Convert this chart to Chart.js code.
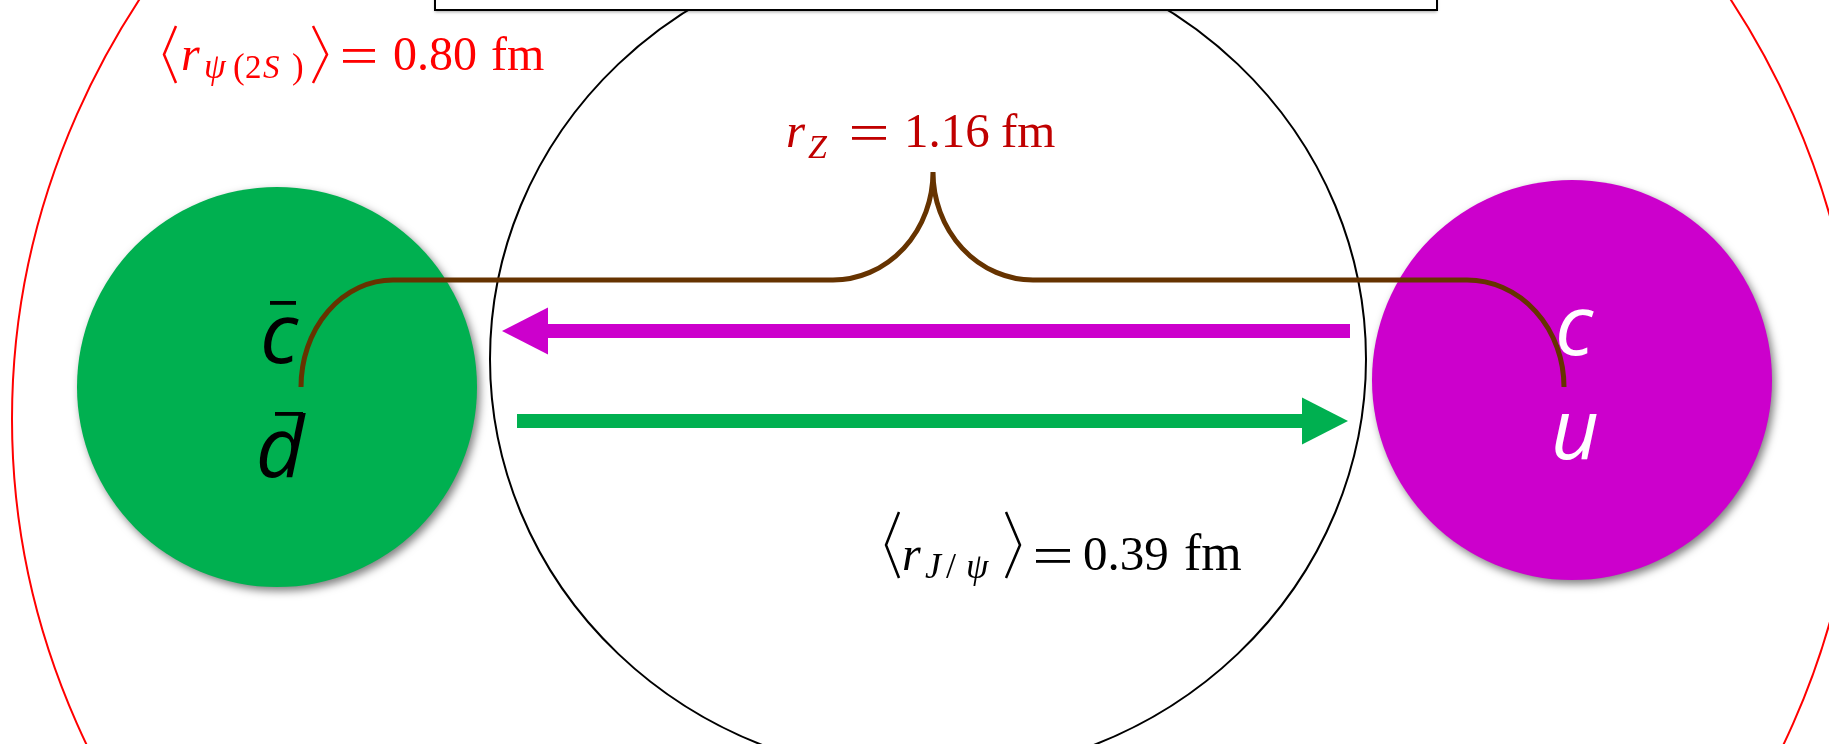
<!DOCTYPE html>
<html>
<head>
<meta charset="utf-8">
<title>Z size sketch</title>
<script src="https://cdn.jsdelivr.net/npm/chart.js@4.4.0/dist/chart.umd.min.js"></script>
<style>
  html, body { margin: 0; padding: 0; background: #fff; }
  #wrap { width: 1829px; height: 744px; }
</style>
</head>
<body>
<div id="wrap"><canvas id="diagram"></canvas></div>
<script>
'use strict';

// outline rings: psi(2S) in red, J/psi in black
const ringNames = ['psi(2S)', 'J/psi'];
const ringCx = [935, 928];
const ringCy = [419, 359];
const ringRx = [923, 438];
const ringRy = [827, 417];

// filled blobs: anti-quarks on the left, quarks on the right
const blobNames = ['cbar dbar', 'c u'];
const blobCx = [277, 1572];
const blobCy = [387, 380];
const blobR = [200, 200];

// quark letters inside the blobs
const quarkTop = ['c', 'c'];
const quarkBottom = ['d', 'u'];
const quarkBar = [true, false];

// arrows between the blobs (magenta to the left, green to the right)
const arrowFrom = [1350, 517];
const arrowTo = [502, 1348];
const arrowY = [331, 421];

// brace joining the two quark centres
const braceX = [301, 393, 833, 933, 1033, 1467, 1564];
const braceY = [387, 280, 280, 172, 280, 280, 387];

// box cut off at the top edge
const boxX = [435, 1437];
const boxY = [-20, 10];

const ringColors = ['#ff0000', '#000000'];
const blobColors = ['#00b050', '#cc00cc'];
const letterColors = ['#000000', '#ffffff'];
const arrowColors = ['#cc00cc', '#00b050'];
const braceColor = '#663300';
const serif = '"Liberation Serif", "DejaVu Serif", serif';
const headLen = 46, headHalf = 23.5;
const topLift = [24, 25], bottomDrop = [90, 79];

const run = (ctx, txt, x, y, size, italic, color) => {
  ctx.font = (italic ? 'italic ' : '') + size + 'px ' + serif;
  ctx.fillStyle = color;
  ctx.fillText(txt, x, y);
};

// angle bracket: open side at xOpen, tip at xTip
const bracket = (ctx, xOpen, xTip, top, bottom, color) => {
  ctx.beginPath();
  ctx.moveTo(xOpen, top);
  ctx.lineTo(xTip, (top + bottom) / 2);
  ctx.lineTo(xOpen, bottom);
  ctx.lineWidth = 2.5;
  ctx.strokeStyle = color;
  ctx.stroke();
};

const equals = (ctx, x0, x1, yc, color) => {
  ctx.fillStyle = color;
  ctx.fillRect(x0, yc - 7, x1 - x0, 2.8);
  ctx.fillRect(x0, yc + 4, x1 - x0, 2.8);
};

const diagram = {
  id: 'diagram',
  beforeDraw(chart) {
    const ctx = chart.ctx;
    ctx.save();
    ctx.fillStyle = '#fff';
    ctx.fillRect(0, 0, chart.width, chart.height);
    ctx.restore();
  },
  beforeDatasetsDraw(chart) {
    const {ctx, scales: {x, y}} = chart;
    const px = v => x.getPixelForValue(v), py = v => y.getPixelForValue(v);
    ctx.save();

    // rings
    ringCx.forEach((cx, i) => {
      ctx.beginPath();
      ctx.ellipse(px(cx), py(ringCy[i]), Math.abs(px(cx + ringRx[i]) - px(cx)),
        Math.abs(py(ringCy[i] + ringRy[i]) - py(ringCy[i])), 0, 0, 2 * Math.PI);
      ctx.lineWidth = 2;
      ctx.strokeStyle = ringColors[i];
      ctx.stroke();
    });

    // box at the top
    ctx.save();
    ctx.shadowColor = 'rgba(0,0,0,0.35)';
    ctx.shadowBlur = 3;
    ctx.shadowOffsetY = 2;
    ctx.fillStyle = '#fff';
    ctx.fillRect(px(boxX[0]), py(boxY[0]), px(boxX[1]) - px(boxX[0]), py(boxY[1]) - py(boxY[0]));
    ctx.restore();
    ctx.lineWidth = 2;
    ctx.strokeStyle = '#000';
    ctx.strokeRect(px(boxX[0]), py(boxY[0]), px(boxX[1]) - px(boxX[0]), py(boxY[1]) - py(boxY[0]));

    // blobs with soft shadow
    blobCx.forEach((cx, i) => {
      ctx.save();
      ctx.shadowColor = 'rgba(0,0,0,0.5)';
      ctx.shadowBlur = 9;
      ctx.shadowOffsetX = 3;
      ctx.shadowOffsetY = 4;
      ctx.beginPath();
      ctx.arc(px(cx), py(blobCy[i]), Math.abs(px(cx + blobR[i]) - px(cx)), 0, 2 * Math.PI);
      ctx.fillStyle = blobColors[i];
      ctx.fill();
      ctx.restore();
    });

    // brace
    const bx = braceX.map(px), by = braceY.map(py);
    ctx.beginPath();
    ctx.moveTo(bx[0], by[0]);
    ctx.ellipse(bx[1], by[0], bx[1] - bx[0], by[0] - by[1], 0, Math.PI, 1.5 * Math.PI);
    ctx.lineTo(bx[2], by[2]);
    ctx.ellipse(bx[2], by[3], bx[3] - bx[2], by[2] - by[3], 0, 0.5 * Math.PI, 0, true);
    ctx.ellipse(bx[4], by[3], bx[4] - bx[3], by[4] - by[3], 0, Math.PI, 0.5 * Math.PI, true);
    ctx.lineTo(bx[5], by[5]);
    ctx.ellipse(bx[5], by[6], bx[6] - bx[5], by[6] - by[5], 0, 1.5 * Math.PI, 2 * Math.PI);
    ctx.lineWidth = 5;
    ctx.strokeStyle = braceColor;
    ctx.stroke();
    ctx.restore();
  },
  afterDatasetsDraw(chart) {
    const {ctx, scales: {x, y}} = chart;
    const px = v => x.getPixelForValue(v), py = v => y.getPixelForValue(v);
    ctx.save();

    // arrow heads
    arrowTo.forEach((tx, i) => {
      const dir = Math.sign(tx - arrowFrom[i]);
      const tipX = px(tx), tipY = py(arrowY[i]);
      ctx.beginPath();
      ctx.moveTo(tipX, tipY);
      ctx.lineTo(tipX - dir * headLen, tipY - headHalf);
      ctx.lineTo(tipX - dir * headLen, tipY + headHalf);
      ctx.closePath();
      ctx.fillStyle = arrowColors[i];
      ctx.fill();
    });

    // quark letters
    ctx.textAlign = 'center';
    ctx.font = 'italic 84px "Open Sans"';
    blobCx.forEach((cx, i) => {
      const cxp = px(cx) + 2, cyp = py(blobCy[i]);
      ctx.fillStyle = letterColors[i];
      ctx.fillText(quarkTop[i], cxp, cyp - topLift[i]);
      ctx.fillText(quarkBottom[i], cxp + 1, cyp + bottomDrop[i]);
      if (quarkBar[i]) {
        ctx.fillRect(cxp - 9, cyp - 86, 26, 3.8);
        ctx.fillRect(cxp - 4, cyp + 25, 28, 3.8);
      }
    });
    ctx.textAlign = 'left';

    // <r_psi(2S)> = 0.80 fm
    const red = '#ff0000';
    bracket(ctx, 176, 164, 26, 83, red);
    run(ctx, 'r', 181, 70, 48, true, red);
    run(ctx, 'ψ', 204, 78, 35, true, red);
    run(ctx, '(', 233, 78, 35, false, red);
    run(ctx, '2', 245, 78, 33, false, red);
    run(ctx, 'S', 263, 78, 33, true, red);
    run(ctx, ')', 292, 78, 35, false, red);
    bracket(ctx, 313, 327, 26, 83, red);
    equals(ctx, 343, 375, 56, red);
    run(ctx, '0.80', 393, 70, 48, false, red);
    run(ctx, 'fm', 491, 70, 48, false, red);

    // r_Z = 1.16 fm
    const dark = '#c00000';
    run(ctx, 'r', 786, 147, 49, true, dark);
    run(ctx, 'Z', 808, 158, 34, true, dark);
    equals(ctx, 852, 886, 133, dark);
    run(ctx, '1.16', 904, 147, 49, false, dark);
    run(ctx, 'fm', 1001, 147, 49, false, dark);

    // <r_J/psi> = 0.39 fm
    const black = '#000000';
    bracket(ctx, 899, 886, 512, 578, black);
    run(ctx, 'r', 902, 570, 48, true, black);
    run(ctx, 'J', 925, 578, 36, true, black);
    run(ctx, '/', 946, 578, 36, false, black);
    run(ctx, 'ψ', 966, 578, 36, true, black);
    bracket(ctx, 1006, 1020, 512, 578, black);
    equals(ctx, 1036, 1070, 556, black);
    run(ctx, '0.39', 1083, 570, 49, false, black);
    run(ctx, 'fm', 1184, 570, 52, false, black);

    ctx.restore();
  }
};

// arrow shafts stop at the base of their heads
const shafts = arrowFrom.map((from, i) => {
  const dir = Math.sign(arrowTo[i] - from);
  return {
    type: 'line',
    data: [{x: from, y: arrowY[i]}, {x: arrowTo[i] - dir * (headLen - 2), y: arrowY[i]}],
    borderColor: arrowColors[i],
    borderWidth: 14,
    borderCapStyle: 'butt',
    pointRadius: 0,
    showLine: true,
    fill: false
  };
});

new Chart(document.querySelector('#diagram'), {
  type: 'scatter',
  data: {datasets: shafts},
  options: {
    responsive: true,
    maintainAspectRatio: false,
    animation: false,
    layout: {padding: 0},
    scales: {
      x: {type: 'linear', min: 0, max: 1829, display: false},
      y: {type: 'linear', min: 0, max: 744, reverse: true, display: false}
    },
    plugins: {
      legend: {display: false},
      tooltip: {enabled: false}
    },
    events: []
  },
  plugins: [diagram]
});
</script>
</body>
</html>
